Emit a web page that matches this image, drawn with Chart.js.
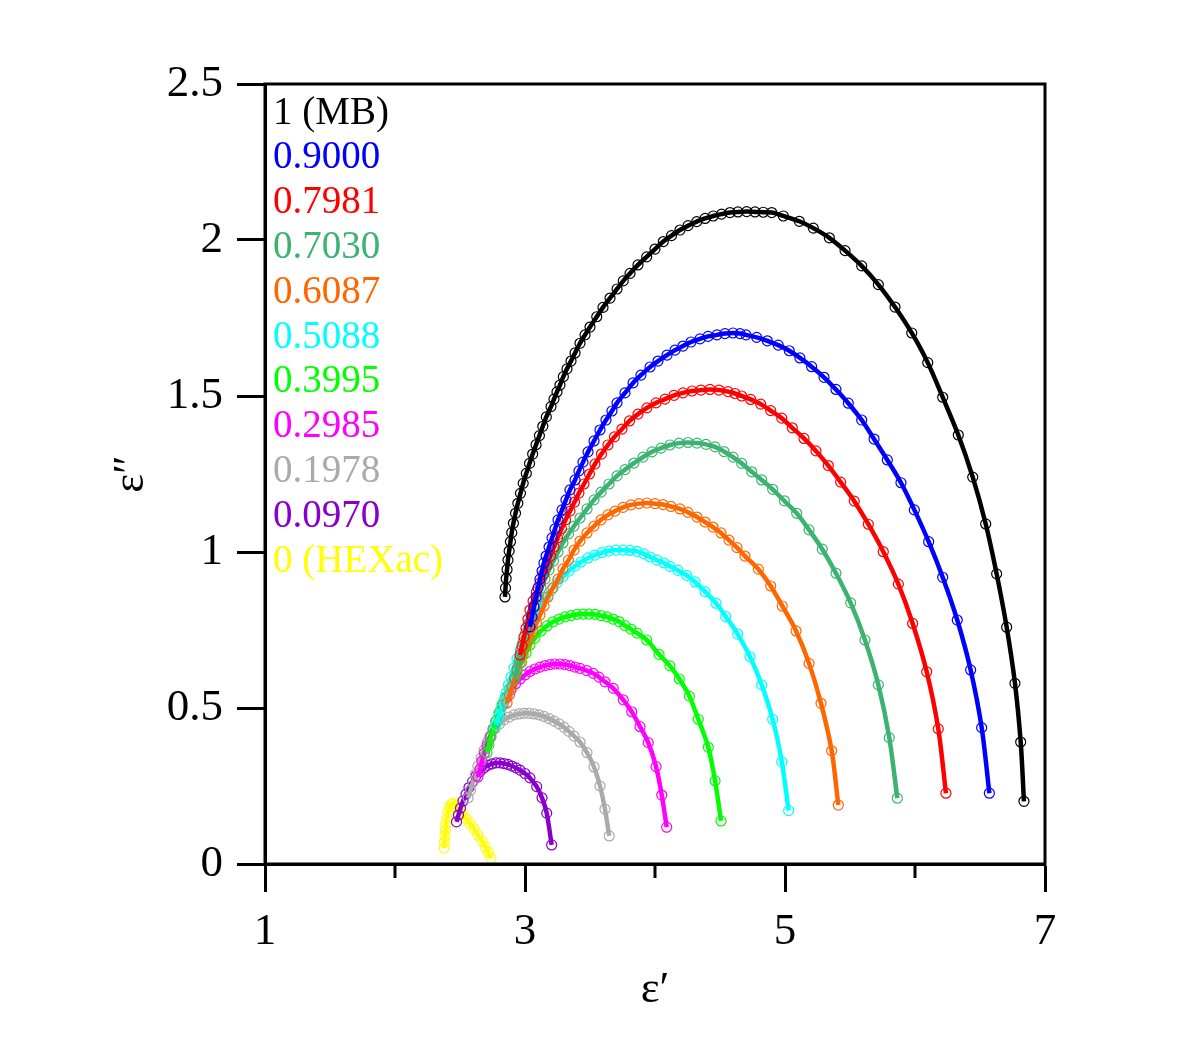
<!DOCTYPE html>
<html><head><meta charset="utf-8">
<script src="https://cdn.jsdelivr.net/npm/chart.js@4.4.1/dist/chart.umd.min.js"></script>
<style>html,body{margin:0;padding:0;background:#fff;}canvas{display:block;}</style>
</head><body>
<canvas id="c" width="1200" height="1057"></canvas>
<script>
// ---- data (epsilon', epsilon'') ----
const mbX = [2.846,2.850,2.855,2.862,2.869,2.878,2.888,2.898,2.911,2.927,2.945,2.965,2.986,3.010,3.035,3.059,3.085,3.111,3.137,3.164,3.200,3.223,3.246,3.269,3.295,3.323,3.354,3.385,3.423,3.462,3.500,3.552,3.600,3.654,3.708,3.756,3.808,3.869,3.936,4.000,4.064,4.127,4.192,4.254,4.321,4.385,4.448,4.512,4.577,4.638,4.705,4.769,4.833,4.898,4.987,5.110,5.218,5.341,5.462,5.590,5.718,5.846,5.975,6.098,6.213,6.333,6.444,6.544,6.628,6.705,6.769,6.813,6.838];
const mbY = [0.856,0.885,0.915,0.944,0.974,1.003,1.033,1.062,1.092,1.124,1.156,1.188,1.220,1.252,1.284,1.314,1.344,1.373,1.403,1.433,1.466,1.490,1.513,1.535,1.562,1.587,1.612,1.638,1.669,1.696,1.721,1.754,1.784,1.814,1.843,1.869,1.893,1.920,1.946,1.971,1.995,2.014,2.032,2.046,2.059,2.069,2.077,2.083,2.088,2.090,2.091,2.090,2.089,2.088,2.077,2.060,2.038,2.007,1.966,1.917,1.857,1.785,1.702,1.607,1.496,1.375,1.240,1.090,0.930,0.759,0.579,0.391,0.201];

const s0900X = [3.038,3.054,3.069,3.085,3.100,3.115,3.131,3.146,3.162,3.185,3.208,3.231,3.254,3.285,3.315,3.346,3.385,3.415,3.446,3.485,3.531,3.577,3.623,3.669,3.708,3.769,3.831,3.892,3.962,4.023,4.092,4.154,4.215,4.277,4.346,4.408,4.477,4.538,4.600,4.654,4.700,4.782,4.864,4.948,5.033,5.115,5.205,5.300,5.392,5.487,5.590,5.685,5.787,5.892,5.995,6.105,6.213,6.325,6.428,6.513,6.572];
const s0900Y = [0.760,0.792,0.824,0.856,0.885,0.913,0.939,0.965,0.987,1.016,1.045,1.074,1.103,1.135,1.167,1.199,1.231,1.260,1.288,1.321,1.356,1.391,1.423,1.452,1.478,1.510,1.542,1.567,1.593,1.612,1.631,1.647,1.660,1.673,1.683,1.691,1.696,1.700,1.702,1.700,1.696,1.688,1.677,1.663,1.645,1.622,1.594,1.560,1.521,1.477,1.423,1.362,1.295,1.222,1.135,1.033,0.919,0.782,0.622,0.437,0.227];

const s0798X = [2.962,2.977,2.992,3.008,3.023,3.038,3.062,3.088,3.115,3.142,3.169,3.196,3.223,3.250,3.281,3.312,3.346,3.381,3.415,3.454,3.496,3.538,3.588,3.638,3.688,3.746,3.804,3.869,3.938,4.008,4.077,4.146,4.215,4.285,4.354,4.423,4.492,4.562,4.615,4.667,4.736,4.813,4.890,4.975,5.056,5.146,5.238,5.333,5.428,5.533,5.641,5.756,5.872,5.982,6.090,6.179,6.238];
const s0798Y = [0.670,0.699,0.728,0.756,0.785,0.814,0.843,0.872,0.901,0.929,0.958,0.987,1.016,1.045,1.074,1.103,1.131,1.160,1.189,1.218,1.250,1.282,1.314,1.343,1.369,1.394,1.420,1.442,1.462,1.478,1.490,1.502,1.510,1.516,1.519,1.521,1.519,1.514,1.508,1.500,1.489,1.474,1.453,1.429,1.398,1.364,1.324,1.277,1.224,1.163,1.089,1.001,0.897,0.771,0.616,0.433,0.227];

const s0703X = [2.923,2.938,2.954,2.969,2.985,3.004,3.023,3.046,3.069,3.096,3.123,3.154,3.185,3.219,3.254,3.292,3.335,3.377,3.423,3.477,3.531,3.585,3.646,3.708,3.769,3.838,3.908,3.977,4.046,4.115,4.185,4.254,4.323,4.392,4.462,4.531,4.600,4.667,4.744,4.821,4.905,4.995,5.090,5.185,5.287,5.392,5.505,5.615,5.718,5.802,5.864];
const s0703Y = [0.596,0.625,0.654,0.683,0.712,0.740,0.769,0.798,0.827,0.856,0.885,0.913,0.942,0.971,1.000,1.029,1.058,1.083,1.109,1.138,1.167,1.192,1.218,1.244,1.264,1.285,1.304,1.321,1.333,1.343,1.349,1.351,1.349,1.345,1.337,1.322,1.304,1.284,1.257,1.231,1.201,1.164,1.124,1.071,1.009,0.932,0.837,0.718,0.574,0.405,0.211];

const s0609X = [2.862,2.881,2.900,2.919,2.938,2.962,2.985,3.008,3.035,3.062,3.088,3.115,3.146,3.177,3.215,3.254,3.292,3.335,3.377,3.423,3.477,3.531,3.585,3.638,3.692,3.754,3.815,3.877,3.938,4.000,4.062,4.123,4.192,4.254,4.323,4.385,4.446,4.508,4.569,4.631,4.692,4.795,4.890,4.979,5.085,5.185,5.277,5.359,5.410];
const s0609Y = [0.516,0.542,0.567,0.593,0.619,0.644,0.670,0.696,0.721,0.747,0.772,0.798,0.827,0.856,0.885,0.913,0.946,0.974,1.006,1.035,1.061,1.083,1.103,1.119,1.131,1.143,1.151,1.155,1.157,1.155,1.152,1.146,1.138,1.127,1.112,1.096,1.080,1.061,1.038,1.014,0.987,0.945,0.891,0.827,0.747,0.643,0.515,0.363,0.189];

const s0509X = [2.777,2.796,2.815,2.835,2.854,2.873,2.892,2.915,2.938,2.965,2.992,3.023,3.054,3.088,3.123,3.162,3.204,3.246,3.292,3.338,3.385,3.431,3.485,3.538,3.592,3.646,3.700,3.754,3.808,3.862,3.915,3.962,4.015,4.069,4.115,4.177,4.244,4.308,4.385,4.469,4.544,4.636,4.731,4.821,4.905,4.975,5.028];
const s0509Y = [0.446,0.471,0.497,0.522,0.548,0.574,0.599,0.628,0.657,0.686,0.715,0.744,0.772,0.801,0.829,0.854,0.878,0.901,0.921,0.939,0.955,0.968,0.981,0.990,0.998,1.003,1.006,1.006,1.005,1.002,0.994,0.984,0.974,0.965,0.954,0.941,0.925,0.904,0.873,0.836,0.793,0.737,0.664,0.574,0.464,0.328,0.171];

const s0400X = [2.708,2.723,2.738,2.758,2.777,2.800,2.823,2.850,2.877,2.908,2.938,2.973,3.008,3.038,3.077,3.123,3.169,3.215,3.262,3.308,3.354,3.400,3.446,3.492,3.538,3.585,3.631,3.677,3.723,3.769,3.815,3.862,3.936,4.031,4.115,4.187,4.264,4.333,4.410,4.462,4.508];
const s0400Y = [0.356,0.381,0.407,0.433,0.458,0.484,0.510,0.535,0.561,0.587,0.612,0.646,0.676,0.702,0.724,0.747,0.763,0.776,0.785,0.792,0.796,0.800,0.801,0.801,0.800,0.796,0.792,0.785,0.777,0.764,0.753,0.740,0.718,0.672,0.635,0.593,0.538,0.464,0.374,0.267,0.138];

const s0299X = [2.638,2.654,2.669,2.688,2.708,2.731,2.754,2.777,2.804,2.831,2.862,2.892,2.927,2.962,3.000,3.038,3.077,3.115,3.154,3.192,3.231,3.269,3.308,3.346,3.385,3.423,3.475,3.525,3.569,3.615,3.679,3.756,3.821,3.885,3.948,4.008,4.052,4.090];
const s0299Y = [0.279,0.304,0.330,0.356,0.381,0.407,0.433,0.458,0.484,0.510,0.535,0.558,0.577,0.593,0.606,0.617,0.625,0.631,0.636,0.639,0.641,0.641,0.639,0.636,0.631,0.627,0.620,0.611,0.599,0.584,0.563,0.526,0.488,0.440,0.389,0.312,0.221,0.118];

const s0198X = [2.562,2.581,2.600,2.619,2.638,2.662,2.685,2.712,2.738,2.769,2.804,2.838,2.877,2.915,2.954,2.992,3.031,3.069,3.108,3.146,3.185,3.223,3.262,3.300,3.338,3.377,3.423,3.477,3.531,3.577,3.615,3.648];
const s0198Y = [0.212,0.237,0.263,0.288,0.314,0.340,0.365,0.391,0.413,0.433,0.449,0.462,0.471,0.478,0.481,0.483,0.483,0.481,0.478,0.473,0.466,0.458,0.449,0.438,0.425,0.410,0.391,0.357,0.311,0.250,0.176,0.090];

const s0097X = [2.473,2.488,2.504,2.523,2.546,2.569,2.596,2.623,2.654,2.685,2.715,2.746,2.777,2.808,2.838,2.869,2.900,2.931,2.962,3.000,3.038,3.090,3.131,3.167,3.205];
const s0097Y = [0.135,0.157,0.179,0.202,0.224,0.245,0.264,0.282,0.296,0.308,0.316,0.321,0.324,0.324,0.322,0.319,0.314,0.308,0.301,0.290,0.276,0.248,0.212,0.163,0.061];

const hexX = [2.377,2.381,2.385,2.388,2.392,2.400,2.408,2.419,2.435,2.454,2.477,2.500,2.523,2.546,2.577,2.608,2.638,2.669,2.696,2.719,2.738];
const hexY = [0.051,0.071,0.090,0.109,0.128,0.147,0.167,0.183,0.192,0.194,0.188,0.173,0.159,0.146,0.130,0.112,0.093,0.074,0.054,0.037,0.019];

const seriesLabels = ['1 (MB)','0.9000','0.7981','0.7030','0.6087','0.5088','0.3995','0.2985','0.1978','0.0970','0 (HEXac)'];
const seriesColors = ['#000000','#0000FF','#FF0000','#3CB371','#FF6600','#00FFFF','#00FF00','#FF00FF','#AAAAAA','#8800CC','#FFFF00'];
const seriesXs = [mbX,s0900X,s0798X,s0703X,s0609X,s0509X,s0400X,s0299X,s0198X,s0097X,hexX];
const seriesYs = [mbY,s0900Y,s0798Y,s0703Y,s0609Y,s0509Y,s0400Y,s0299Y,s0198Y,s0097Y,hexY];

const xMajorLabels = [1,3,5,7];
const xMinorTicks = [2,4,6];

const FONT = '"Liberation Serif","Times New Roman",Times,serif';

const datasets = seriesLabels.map((lab, i) => ({
  label: lab,
  data: seriesXs[i].map((x, k) => ({x: x, y: seriesYs[i][k]})),
  showLine: true,
  borderColor: seriesColors[i],
  borderWidth: 4.5,
  tension: 0.3,
  fill: false,
  pointRadius: 5,
  pointBorderWidth: 1.2,
  pointBorderColor: seriesColors[i],
  pointBackgroundColor: 'rgba(0,0,0,0)',
  pointHoverRadius: 5
}));

const framePlugin = {
  id: 'framePlugin',
  afterDraw(chart) {
    const {ctx, chartArea: a, scales} = chart;
    ctx.save();
    ctx.strokeStyle = '#000';
    ctx.lineWidth = 3;
    ctx.strokeRect(a.left, a.top, a.right - a.left, a.bottom - a.top);
    ctx.beginPath();
    xMinorTicks.forEach(v => {
      const p = scales.x.getPixelForValue(v);
      ctx.moveTo(p, a.bottom);
      ctx.lineTo(p, a.bottom + 14);
    });
    ctx.stroke();
    ctx.font = '39px ' + FONT;
    ctx.textAlign = 'left';
    ctx.textBaseline = 'alphabetic';
    seriesLabels.forEach((t, i) => {
      ctx.fillStyle = seriesColors[i];
      ctx.fillText(t, a.left + 8, a.top + 39.5 + i * 44.8);
    });
    ctx.restore();
  }
};

new Chart(document.getElementById('c'), {
  type: 'scatter',
  data: {datasets},
  options: {
    responsive: false,
    animation: false,
    devicePixelRatio: 1,
    layout: {padding: {left: 0, top: 84, right: 155, bottom: 0}},
    plugins: {legend: {display: false}, tooltip: {enabled: false}},
    scales: {
      x: {
        type: 'linear', min: 1, max: 7,
        afterFit(s) { s.height = 193; },
        border: {display: true, width: 3, color: '#000'},
        grid: {display: true, drawOnChartArea: false, drawTicks: true, tickLength: 28, tickWidth: 3,
               tickColor: c => (xMajorLabels.includes(c.tick.value) ? '#000' : 'rgba(0,0,0,0)')},
        ticks: {stepSize: 1, autoSkip: false, maxRotation: 0, padding: 13, color: '#000',
                font: {family: FONT, size: 45},
                callback: v => (xMajorLabels.includes(v) ? String(v) : '')},
        title: {display: true, text: 'ε′', color: '#000', font: {family: FONT, size: 45}, padding: {bottom: 40}}
      },
      y: {
        type: 'linear', min: 0, max: 2.5,
        afterFit(s) { s.width = 265; },
        border: {display: true, width: 3, color: '#000'},
        grid: {display: true, drawOnChartArea: false, drawTicks: true, tickLength: 28, tickWidth: 3, tickColor: '#000'},
        ticks: {stepSize: 0.5, padding: 14, color: '#000', font: {family: FONT, size: 45},
                callback: v => String(Math.round(v * 10) / 10)},
        title: {display: true, text: 'ε″', color: '#000', font: {family: FONT, size: 45}, padding: {top: 104}}
      }
    }
  },
  plugins: [framePlugin]
});
</script>
</body></html>
